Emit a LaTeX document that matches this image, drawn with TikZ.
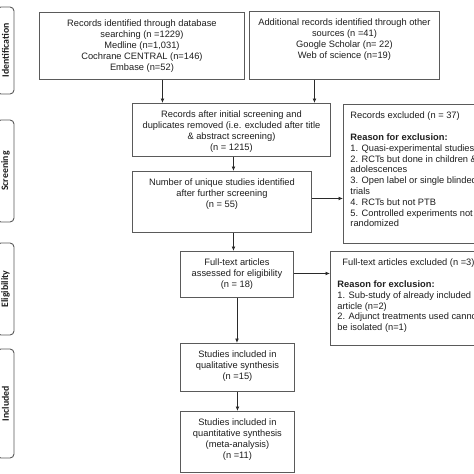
\documentclass[tikz,border=0pt]{standalone}
\usepackage{fontspec}
\setmainfont{Liberation Sans}
\newfontfamily\sidefont{Carlito}
\usetikzlibrary{arrows.meta}
\definecolor{boxgray}{HTML}{5A5A5A}
\definecolor{txt}{HTML}{1E1E1E}
\definecolor{arrcol}{HTML}{2A2A2A}
\newcommand{\cbox}[3]{\parbox[t][#2pt][t]{#1pt}{\vspace*{7.8pt}\centering #3\par}}
\newcommand{\lbox}[3]{\parbox[t][#2pt][t]{#1pt}{\vspace*{7.8pt}\raggedright\leftskip=7pt #3\par}}
\begin{document}
\begin{tikzpicture}[x=1pt,y=-1pt,
  box/.style={draw=boxgray, line width=0.9pt, inner sep=0pt, anchor=north west,
    font=\fontsize{9.3}{10.8}\selectfont, text=txt},
  side/.style={draw=boxgray, line width=0.9pt, rounded corners=4pt, rotate=90, inner sep=0pt,
    font=\sidefont\bfseries\fontsize{9.8}{11}\selectfont, text=txt},
  arr/.style={-{Latex[length=4.5pt,width=3.8pt]}, line width=0.8pt, draw=arrcol}]
\useasboundingbox (0,0) rectangle (474,474);
\fill[white] (0,0) rectangle (474,474);
\clip (0,0) rectangle (474,474);

% side labels
\node[side, minimum width=87pt, minimum height=17pt] (S1) at (5.5,50.5) {Identification};
\node[side, minimum width=102pt, minimum height=17pt] (S2) at (5.5,171) {Screening};
\node[side, minimum width=92pt, minimum height=17pt] (S3) at (5.5,289) {Eligibility};
\node[side, minimum width=109pt, minimum height=17pt] (S4) at (5.5,403.5) {Included};

% boxes
\node[box] (B1) at (39,12) {\cbox{205}{67}{Records identified through database\\searching (n =1229)\\Medline (n=1,031)\\Cochrane CENTRAL (n=146)\\Embase (n=52)}};
\node[box] (B2) at (249,11) {\cbox{190}{68}{Additional records identified through other\\sources (n =41)\\Google Scholar (n= 22)\\Web of science (n=19)}};
\node[box] (B3) at (132,103) {\cbox{198}{53}{Records after initial screening and\\duplicates removed (i.e. excluded after title\\\& abstract screening)\\(n = 1215)}};
\node[box] (B4) at (132,171) {\cbox{179}{61}{Number of unique studies identified\\after further screening\\(n = 55)}};
\node[box] (E1) at (343,104) {\lbox{200}{139}{Records excluded (n = 37)\\[10.8pt]\textbf{Reason for exclusion:}\\1. Quasi-experimental studies\\2. RCTs but done in children \&\\adolescences\\3. Open label or single blinded\\trials\\4. RCTs but not PTB\\5. Controlled experiments not\\randomized}};
\node[box] (FT) at (180,251) {\cbox{113}{46}{Full-text articles\\assessed for eligibility\\(n = 18)}};
\node[box] (E2) at (330,251) {\lbox{200}{94}{\hspace*{5pt}Full-text articles excluded (n =3)\\[10.8pt]\textbf{Reason for exclusion:}\\1. Sub-study of already included\\article (n=2)\\2. Adjunct treatments used cannot\\be isolated (n=1)}};
\node[box] (Q) at (180,343) {\cbox{114}{48}{Studies included in\\qualitative synthesis\\(n =15)}};
\node[box] (F) at (180,411) {\cbox{114}{61}{Studies included in\\quantitative synthesis\\(meta-analysis)\\(n =11)}};

% connectors
\draw[arr] ([xshift=20.5pt]B1.south) -- ([xshift=20.5pt]B1.south |- B3.north);
\draw[arr] ([xshift=-30pt]B2.south) -- ([xshift=-30pt]B2.south |- B3.north);
\draw[arr] ([xshift=2pt]B3.south) -- ([xshift=2pt]B3.south |- B4.north);
\draw[arr] ([yshift=3.5pt]B4.east) -- ([yshift=3.5pt]B4.east -| E1.west);
\draw[arr] ([xshift=11.5pt]B4.south) -- ([xshift=11.5pt]B4.south |- FT.north);
\draw[arr] ([yshift=1pt]FT.east) -- ([yshift=1pt]FT.east -| E2.west);
\draw[arr] (FT.south) -- (FT.south |- Q.north);
\draw[arr] (Q.south) -- (Q.south |- F.north);
\end{tikzpicture}
\end{document}
